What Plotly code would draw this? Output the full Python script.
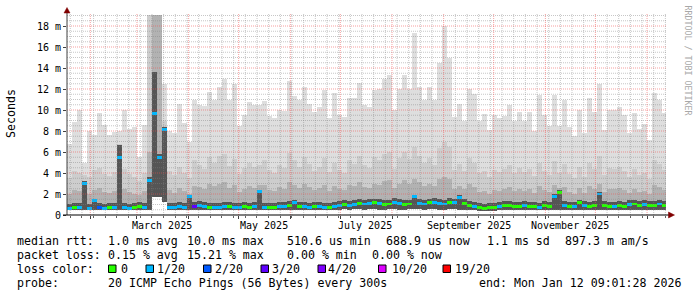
import pandas as pd
import plotly.graph_objects as go

# ---------------- data: one value per 3-day bin, starting 2025-01-18 (values in ms) ----------------
ping_min = [
    0.45, 0.45, 0.50, 0.45, 0.45, 0.45, 0.50, 0.45, 0.45, 0.45,
    0.45, 0.45, 0.45, 0.45, 0.45, 0.45, 0.45, 1.70, 1.70, 1.20,
    0.50, 0.45, 0.45, 0.50, 0.45, 0.45, 0.50, 0.45, 0.45, 0.45,
    0.45, 0.50, 0.45, 0.45, 0.45, 0.50, 0.45, 0.45, 0.45, 0.45,
    0.45, 0.45, 0.50, 0.45, 0.45, 0.50, 0.45, 0.45, 0.45, 0.45,
    0.50, 0.45, 0.45, 0.50, 0.50, 0.55, 0.50, 0.55, 0.55, 0.50,
    0.55, 0.55, 0.50, 0.50, 0.55, 0.55, 0.50, 0.50, 0.55, 0.55,
    0.55, 0.50, 0.55, 0.55, 0.50, 0.50, 0.55, 0.55, 0.50, 0.50,
    0.50, 0.45, 0.40, 0.40, 0.40, 0.40, 0.45, 0.50, 0.50, 0.45,
    0.45, 0.50, 0.45, 0.45, 0.45, 0.50, 0.45, 0.45, 0.50, 0.50,
    0.45, 0.45, 0.50, 0.50, 0.45, 0.50, 0.50, 0.45, 0.45, 0.45,
    0.50, 0.45, 0.50, 0.50, 0.50, 0.50, 0.45, 0.50, 0.50, 0.50,
]
smoke_max = [
    6.8, 8.9, 10.0, 5.0, 8.0, 7.6, 9.7, 8.6, 7.6, 7.9,
    8.0, 10.0, 8.2, 8.4, 5.5, 8.6, 19.05, 19.05, 19.05, 12.5,
    8.0, 7.8, 10.6, 8.8, 7.0, 11.0, 10.5, 10.4, 11.7, 11.0,
    12.2, 13.0, 11.0, 12.5, 8.5, 9.5, 10.8, 10.5, 10.5, 10.9,
    9.4, 9.2, 10.0, 9.9, 12.8, 11.3, 11.0, 12.2, 10.6, 9.8,
    10.3, 11.9, 9.2, 11.6, 9.5, 9.3, 11.1, 11.1, 12.6, 10.5,
    10.3, 11.9, 12.0, 13.0, 13.3, 10.0, 12.0, 13.3, 12.0, 17.3,
    12.2, 11.0, 12.2, 11.0, 14.5, 18.0, 15.0, 9.3, 10.6, 9.0,
    12.0, 11.5, 9.0, 9.6, 8.1, 9.5, 9.2, 9.4, 10.5, 9.0,
    9.8, 9.0, 9.8, 8.0, 11.4, 9.5, 8.5, 11.4, 8.5, 11.0,
    8.4, 7.5, 10.0, 7.8, 11.1, 9.8, 12.5, 8.1, 10.0, 10.0,
    10.3, 9.5, 7.8, 9.7, 8.2, 8.7, 7.1, 11.6, 11.0, 9.7,
]
smoke_hi = [
    3.5, 4.2, 4.0, 3.8, 3.6, 4.3, 4.5, 3.9, 3.7, 4.1,
    6.8, 4.4, 3.9, 3.6, 3.2, 4.0, 19.05, 19.05, 19.05, 9.0,
    4.2, 3.8, 4.6, 4.0, 3.5, 5.2, 4.8, 4.4, 5.5, 5.0,
    5.6, 5.8, 4.7, 5.3, 3.9, 4.5, 5.0, 4.6, 4.8, 5.2,
    4.3, 4.0, 4.8, 4.5, 5.9, 5.2, 4.6, 5.5, 4.9, 4.2,
    4.6, 5.4, 4.1, 5.0, 4.3, 4.0, 5.2, 4.9, 5.6, 4.8,
    4.5, 5.5, 5.2, 5.8, 6.0, 4.4, 5.4, 6.0, 5.3, 6.5,
    5.6, 5.0, 5.4, 4.8, 6.4, 7.0, 6.5, 4.3, 4.9, 4.2,
    5.4, 5.0, 4.0, 4.2, 3.6, 4.3, 4.1, 4.4, 4.8, 4.0,
    4.5, 4.1, 4.4, 3.7, 5.0, 4.2, 3.8, 5.1, 4.0, 4.9,
    3.9, 3.5, 4.6, 3.6, 5.0, 4.4, 5.6, 3.8, 4.5, 4.4,
    4.6, 4.2, 3.6, 4.4, 3.8, 4.0, 3.4, 5.2, 4.9, 4.3,
]
smoke_mid = [
    2.0, 2.4, 2.3, 3.1, 2.0, 2.4, 2.6, 2.2, 2.1, 2.3,
    5.6, 2.5, 2.2, 2.0, 1.9, 2.3, 6.0, 19.05, 19.05, 8.4,
    2.4, 2.1, 2.6, 2.3, 2.0, 2.8, 2.7, 2.5, 3.0, 2.8,
    3.0, 3.1, 2.6, 2.9, 2.2, 2.5, 2.8, 2.6, 2.9, 2.9,
    2.4, 2.3, 2.7, 2.5, 3.1, 2.9, 2.6, 3.0, 2.7, 2.4,
    2.6, 2.9, 2.3, 2.8, 2.5, 2.4, 2.9, 2.8, 3.1, 2.7,
    2.6, 3.0, 2.9, 3.2, 3.3, 2.6, 3.0, 3.3, 3.0, 3.4,
    3.1, 2.8, 3.0, 2.8, 3.4, 3.6, 3.4, 2.5, 2.8, 2.5,
    3.0, 2.7, 2.2, 2.3, 2.0, 2.4, 2.3, 2.5, 2.7, 2.3,
    2.5, 2.3, 2.5, 2.1, 2.8, 2.4, 2.2, 2.9, 2.6, 2.7,
    2.2, 2.0, 2.6, 2.1, 2.8, 2.5, 3.0, 2.2, 2.5, 2.5,
    2.6, 2.4, 2.1, 2.5, 2.2, 2.3, 2.0, 2.9, 2.7, 2.4,
]
smoke_dark = [
    1.05, 1.15, 1.10, 3.20, 1.05, 1.55, 1.10, 1.05, 1.15, 1.10,
    6.70, 1.10, 1.05, 1.10, 1.20, 1.10, 3.60, 13.6, 5.80, 8.40,
    1.15, 1.10, 1.20, 1.15, 1.95, 1.20, 1.30, 1.25, 1.15, 1.10,
    1.15, 1.25, 1.20, 1.10, 1.15, 1.25, 1.15, 1.20, 2.35, 1.10,
    1.15, 1.10, 1.20, 1.25, 1.35, 1.45, 1.25, 1.20, 1.15, 1.20,
    1.25, 1.15, 1.10, 1.20, 1.30, 1.40, 1.35, 1.40, 1.50, 1.45,
    1.50, 1.55, 1.50, 1.40, 1.45, 1.60, 1.50, 1.40, 1.45, 1.95,
    1.50, 1.45, 1.55, 1.60, 1.50, 1.45, 1.60, 1.55, 1.90, 1.50,
    1.35, 1.20, 1.10, 1.05, 1.10, 1.15, 1.25, 1.35, 1.30, 1.25,
    1.25, 1.30, 1.25, 1.20, 1.15, 1.30, 1.25, 2.00, 2.40, 1.30,
    1.20, 1.25, 1.45, 1.30, 1.25, 1.35, 2.20, 1.30, 1.25, 1.20,
    1.30, 1.25, 1.40, 1.45, 1.35, 1.40, 1.30, 1.35, 1.45, 1.35,
]
median_ms = [
    0.65, 0.75, 0.70, 3.00, 0.65, 1.35, 0.70, 0.65, 0.75, 0.70,
    5.50, 0.70, 0.65, 0.70, 0.85, 0.70, 3.30, 9.70, 5.50, 8.10,
    0.75, 0.70, 0.80, 0.75, 1.80, 0.80, 0.90, 0.85, 0.75, 0.70,
    0.75, 0.85, 0.80, 0.70, 0.75, 0.85, 0.75, 0.80, 2.20, 0.70,
    0.75, 0.70, 0.80, 0.85, 0.95, 1.20, 0.85, 0.80, 0.75, 0.80,
    0.85, 0.75, 0.70, 0.80, 0.90, 1.00, 0.95, 1.00, 1.10, 1.05,
    1.10, 1.15, 1.10, 1.00, 1.05, 1.20, 1.10, 1.00, 1.05, 1.75,
    1.10, 1.05, 1.15, 1.20, 1.10, 1.05, 1.20, 1.15, 1.70, 1.10,
    0.95, 0.80, 0.70, 0.65, 0.70, 0.75, 0.85, 0.95, 0.90, 0.85,
    0.85, 0.90, 0.85, 0.80, 0.75, 0.90, 0.85, 1.75, 2.10, 0.90,
    0.80, 0.85, 1.20, 0.90, 0.85, 0.95, 2.00, 0.90, 0.85, 0.80,
    0.90, 0.85, 1.00, 1.05, 0.95, 1.00, 0.90, 0.95, 1.05, 0.95,
]
loss_class = [
    1, 0, 1, 1, 1, 1, 2, 1, 0, 1,
    1, 1, 1, 0, 0, 1, 1, 1, 1, 1,
    1, 1, 1, 1, 1, 3, 1, 1, 0, 1,
    1, 1, 0, 1, 1, 0, 0, 1, 1, 1,
    0, 0, 1, 1, 0, 1, 0, 1, 1, 0,
    1, 1, 0, 1, 1, 0, 1, 1, 0, 1,
    1, 0, 1, 0, 0, 1, 1, 0, 0, 1,
    1, 1, 0, 1, 1, 1, 0, 1, 1, 0,
    0, 1, 0, 0, 0, 0, 1, 0, 0, 0,
    0, 1, 0, 0, 1, 0, 0, 1, 0, 1,
    0, 1, 0, 1, 0, 0, 1, 0, 0, 1,
    0, 0, 1, 0, 0, 1, 0, 0, 1, 0,
]

loss_colors = ["#26ff00", "#00b8ff", "#0059ff", "#5e00ff", "#7e00ff", "#dd00ff", "#ff0000"]
loss_labels = ["0", "1/20", "2/20", "3/20", "4/20", "10/20", "19/20"]

y_tick_vals = [0, 2, 4, 6, 8, 10, 12, 14, 16, 18]
y_tick_text = ["0", "2 m", "4 m", "6 m", "8 m", "10 m", "12 m", "14 m", "16 m", "18 m"]
month_labels = ["March 2025", "May 2025", "July 2025", "September 2025", "November 2025"]
month_label_dates = ["2025-03-16", "2025-05-16", "2025-07-16", "2025-09-16", "2025-11-16"]

legend_rows = [
    [(16, "median rtt:"), (107, "1.0 ms avg"), (186, "10.0 ms max"), (286, "510.6 us min"),
     (385, "688.9 us now"), (486, "1.1 ms sd"), (564, "897.3 m am/s")],
    [(16, "packet loss:"), (107, "0.15 % avg"), (186, "15.21 % max"), (286, "0.00 % min"),
     (371, "0.00 % now")],
    [(16, "loss color:")],
    [(16, "probe:"), (107, "20 ICMP Echo Pings (56 Bytes) every 300s"),
     (478, "end: Mon Jan 12 09:01:28 2026")],
]
legend_row_y = [240.7, 255.0, 269.0, 283.3]
square_x = [108.5, 146.0, 203.5, 261.0, 318.0, 378.5, 443.0]
square_label_x = [120, 156.5, 214, 271, 327.5, 391, 454]

# ---------------- geometry ----------------
W, H = 697, 297
ML, MR, MT, MB = 67, 31, 13, 82
PW, PH = W - ML - MR, H - MT - MB
PX_PER_MS = 10.5
Y_TOP = PH / PX_PER_MS
X_START = pd.Timestamp("2025-01-18 00:30:00")
X_END = pd.Timestamp("2026-01-12 09:01:28")
BIN = pd.Timedelta(days=3)

def px(xp):
    return (xp - ML) / PW

def py(yp):
    return (MT + PH - yp) / PH

n = len(median_ms)
bin_start = pd.date_range("2025-01-18", periods=n, freq="3D")
bin_mid = bin_start + BIN / 2
bar_w = BIN.total_seconds() * 1000 * 1.03

MONO = "DejaVu Sans Mono"
fig = go.Figure()

for top, col in [(smoke_max, "#dedede"), (smoke_hi, "#cdcdcd"), (smoke_mid, "#b2b2b2"), (smoke_dark, "#555555")]:
    fig.add_trace(go.Bar(
        x=bin_mid, y=[t - b for t, b in zip(top, ping_min)], base=ping_min, width=bar_w,
        marker=dict(color=col, line=dict(width=0)), hoverinfo="skip", showlegend=False))

fig.add_trace(go.Bar(
    x=bin_mid, y=[0.28] * n, base=[m - 0.14 for m in median_ms], width=bar_w * 0.8,
    marker=dict(color=[loss_colors[k] for k in loss_class], line=dict(width=0)),
    hoverinfo="skip", showlegend=False))

shapes = []
# horizontal grid
for k in range(1, int(Y_TOP / 0.5) + 1):
    v = k * 0.5
    major = (k % 4 == 0)
    shapes.append(dict(type="line", xref="paper", yref="y", x0=0, x1=1, y0=v, y1=v, layer="above",
                       line=dict(color="rgba(240,80,80,0.55)" if major else "rgba(130,130,130,0.45)",
                                 width=1, dash="1px,1px")))
month_starts = pd.date_range("2025-02-01", "2026-01-01", freq="MS")
mondays = pd.date_range("2025-01-20", "2026-01-12", freq="7D")
for d in mondays:
    if d in month_starts:
        continue
    shapes.append(dict(type="line", xref="x", yref="paper", x0=d, x1=d, y0=0, y1=1, layer="above",
                       line=dict(color="rgba(130,130,130,0.45)", width=1, dash="1px,1px")))
for d in month_starts:
    shapes.append(dict(type="line", xref="x", yref="paper", x0=d, x1=d, y0=0, y1=1, layer="above",
                       line=dict(color="rgba(240,80,80,0.55)", width=1, dash="1px,1px")))
# axes with arrows
shapes.append(dict(type="line", xref="paper", yref="paper", x0=px(67), x1=px(67), y0=py(215), y1=py(10),
                   layer="above", line=dict(color="#404040", width=1)))
shapes.append(dict(type="line", xref="paper", yref="paper", x0=px(63), x1=px(670), y0=py(215), y1=py(215),
                   layer="above", line=dict(color="#000000", width=1)))
shapes.append(dict(type="path", xref="paper", yref="paper", layer="above",
                   path=f"M {px(64)} {py(13)} L {px(67)} {py(7.5)} L {px(70)} {py(13)} Z",
                   fillcolor="#800000", line=dict(color="#800000", width=0.5)))
shapes.append(dict(type="path", xref="paper", yref="paper", layer="above",
                   path=f"M {px(668.5)} {py(212)} L {px(674.5)} {py(215)} L {px(668.5)} {py(218)} Z",
                   fillcolor="#800000", line=dict(color="#800000", width=0.5)))
# loss colour swatches
for sx, col in zip(square_x, loss_colors):
    shapes.append(dict(type="rect", xref="paper", yref="paper", x0=px(sx), x1=px(sx + 7.5),
                       y0=py(272.5), y1=py(265), fillcolor=col, line=dict(color="black", width=1)))

annotations = []
for d, lab in zip(month_label_dates, month_labels):
    annotations.append(dict(x=d, xref="x", y=py(225), yref="paper", text=lab, showarrow=False,
                            xanchor="center", yanchor="middle", font=dict(family=MONO, size=10, color="black")))
annotations.append(dict(x=px(11), y=py(114), xref="paper", yref="paper", text="Seconds", textangle=-90,
                        showarrow=False, xanchor="center", yanchor="middle",
                        font=dict(family=MONO, size=11.6, color="black")))
annotations.append(dict(x=px(687.5), y=py(60), xref="paper", yref="paper", text="RRDTOOL / TOBI OETIKER",
                        textangle=90, showarrow=False, xanchor="center", yanchor="middle",
                        font=dict(family=MONO, size=8.3, color="#a8a8a8")))
for row, ry in zip(legend_rows, legend_row_y):
    for lx, txt in row:
        annotations.append(dict(x=px(lx - 1.5), y=py(ry), xref="paper", yref="paper", text=txt,
                                showarrow=False, xanchor="left", yanchor="middle",
                                font=dict(family=MONO, size=11.6, color="black")))
for lx, txt in zip(square_label_x, loss_labels):
    annotations.append(dict(x=px(lx - 1.5), y=py(legend_row_y[2]), xref="paper", yref="paper", text=txt,
                            showarrow=False, xanchor="left", yanchor="middle",
                            font=dict(family=MONO, size=11.6, color="black")))

fig.update_layout(
    width=W, height=H, autosize=False,
    margin=dict(l=ML, r=MR, t=MT, b=MB, pad=0),
    paper_bgcolor="white", plot_bgcolor="white",
    barmode="overlay", bargap=0, showlegend=False,
    shapes=shapes, annotations=annotations,
    xaxis=dict(type="date", range=[X_START, X_END], showgrid=False, zeroline=False, showline=False,
               tickmode="array", tickvals=month_starts, ticks="outside", ticklen=3, tickcolor="#404040",
               showticklabels=False, fixedrange=True,
               minor=dict(tickmode="array", tickvals=mondays, ticks="outside", ticklen=2,
                          tickcolor="#606060", showgrid=False)),
    yaxis=dict(range=[0, Y_TOP], showgrid=False, zeroline=False, showline=False,
               tickmode="array", tickvals=y_tick_vals, ticktext=y_tick_text,
               ticks="outside", ticklen=3, tickcolor="#404040", fixedrange=True,
               tickfont=dict(family=MONO, size=10, color="black")),
)

fig.write_html("out.html", config={"displayModeBar": False})
